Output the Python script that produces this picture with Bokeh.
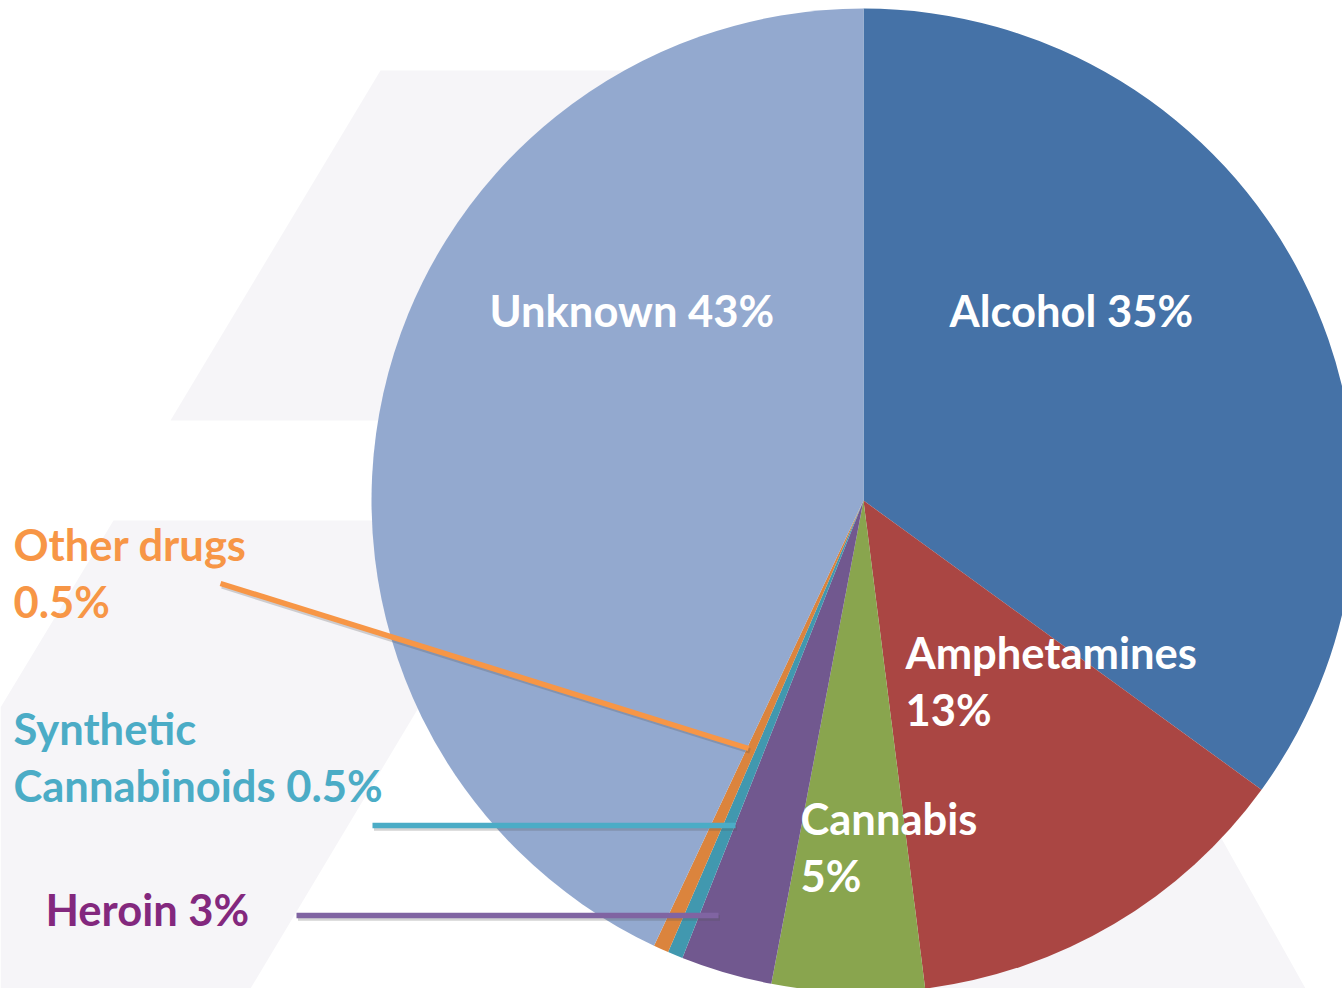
import numpy as np
from bokeh.plotting import figure
from bokeh.models import ColumnDataSource, Range1d
from bokeh.core.properties import value
from bokeh.embed import file_html
from bokeh.resources import INLINE

# ---- data ----
categories = ["Alcohol", "Amphetamines", "Cannabis", "Heroin",
              "Synthetic Cannabinoids", "Other drugs", "Unknown"]
shares = [35, 13, 5, 3, 0.5, 0.5, 43]
colors = ["#4572A7", "#AA4643", "#89A54E", "#71588F", "#4198AF", "#DB843D", "#93A9CF"]

def pct(v):
    return (f"{v:g}") + "%"

# label line breaks (display text), built from the data
label_lines = {
    "Alcohol": [f"Alcohol {pct(shares[0])}"],
    "Amphetamines": ["Amphetamines", pct(shares[1])],
    "Cannabis": ["Cannabis", pct(shares[2])],
    "Heroin": [f"Heroin {pct(shares[3])}"],
    "Synthetic Cannabinoids": ["Synthetic", f"Cannabinoids {pct(shares[4])}"],
    "Other drugs": ["Other drugs", pct(shares[5])],
    "Unknown": [f"Unknown {pct(shares[6])}"],
}

# ---- layout (pixel coordinates from top-left) ----
W, H = 1342, 988
CX, CY, R = 863, 500, 492
FONT = "Lato"
FS = "43.5px"
LINE_GAP = 57
DY = -3

label_pos = {  # left x, centre y of first line (pixels from top)
    "Alcohol": (949, 312),
    "Amphetamines": (905, 654),
    "Cannabis": (800, 820),
    "Heroin": (45, 911),
    "Synthetic Cannabinoids": (13, 730),
    "Other drugs": (13, 546),
    "Unknown": (489, 312),
}
label_color = {
    "Alcohol": "white", "Amphetamines": "white", "Cannabis": "white", "Unknown": "white",
    "Heroin": "#83287E", "Synthetic Cannabinoids": "#4BACC6", "Other drugs": "#F79646",
}
leaders = {  # (x0, y0, x1, y1, color)
    "Other drugs": (220, 583, 748, 748, "#F79646"),
    "Synthetic Cannabinoids": (372, 825, 735, 825, "#4BACC6"),
    "Heroin": (296, 915, 718, 915, "#8064A2"),
}

def fy(y):
    return H - y

p = figure(width=W, height=H, output_backend="svg", toolbar_location=None,
           x_range=Range1d(0, W), y_range=Range1d(0, H),
           x_axis_type=None, y_axis_type=None, min_border=0,
           background_fill_color="white", border_fill_color="white")
p.grid.visible = False
p.outline_line_color = None

# ---- faint background watermark ----
wm = "#F6F5F8"
p.patch([380, 1000, 790, 170], [fy(70), fy(70), fy(420), fy(420)], color=wm, line_color=None)
p.patch([113, 1043, 1305, 1342, 1342, 0, 0],
        [fy(520), fy(520), fy(988), fy(988), fy(988), fy(988), fy(707)],
        color=wm, line_color=None)
p.patch([250, 560, 870], [fy(988), fy(470), fy(988)], color="white", line_color=None)

# ---- pie ----
frac = np.array(shares, dtype=float) / sum(shares)
ends = np.cumsum(frac) * 2 * np.pi
starts = ends - frac * 2 * np.pi
src = ColumnDataSource(dict(
    cat=categories,
    start=np.pi / 2 - starts,
    end=np.pi / 2 - ends,
    color=colors,
))
p.wedge(x=CX, y=fy(CY), radius=R, start_angle="start", end_angle="end",
        direction="clock", fill_color="color", line_color=None, source=src)

# ---- leader lines with subtle shadow ----
for k, (x0, y0, x1, y1, c) in leaders.items():
    p.line([x0 + 1.5, x1 + 1.5], [fy(y0) - 2.5, fy(y1) - 2.5], line_color="#555555",
           line_alpha=0.25, line_width=5.5)
    p.line([x0, x1], [fy(y0), fy(y1)], line_color=c, line_width=5.5)

# ---- labels ----
xs, ys, texts, cols = [], [], [], []
for cat in categories:
    x0, y0 = label_pos[cat]
    for i, t in enumerate(label_lines[cat]):
        xs.append(x0)
        ys.append(fy(y0 + DY + i * LINE_GAP))
        texts.append(t)
        cols.append(label_color[cat])
lsrc = ColumnDataSource(dict(x=xs, y=ys, text=texts, color=cols))
p.text(x="x", y="y", text="text", text_color="color", source=lsrc,
       text_font=value(FONT), text_font_style="bold", text_font_size=FS,
       text_align="left", text_baseline="middle")

open("out.html", "w").write(file_html(p, INLINE))
